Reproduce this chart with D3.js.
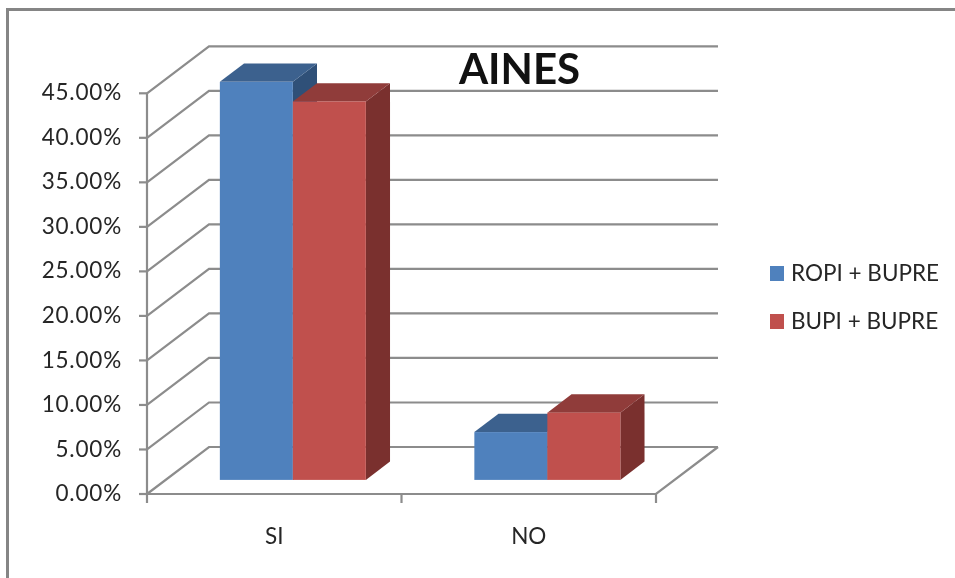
<!DOCTYPE html>
<html>
<head>
<meta charset="utf-8">
<script src="https://cdn.jsdelivr.net/npm/d3@7"></script>
<style>
html, body { margin: 0; padding: 0; background: #fff; }
svg { display: block; filter: blur(0.45px); }
text { font-family: Lato, "Open Sans", sans-serif; fill: #262626; }
</style>
</head>
<body>
<script>
var categories = ["SI", "NO"];
var seriesNames = ["ROPI + BUPRE", "BUPI + BUPRE"];
var ropiValues = [44.7, 5.37];
var bupiValues = [42.5, 7.55];
var yTicks = [0, 5, 10, 15, 20, 25, 30, 35, 40, 45];

var frontColors = ["#4f81bd", "#c0504d"],
	topColors = ["#3c618e", "#903c3a"],
	sideColors = ["#2f5078", "#7a302e"];

var width = 955, height = 578,
	plot = {left: 147, right: 656, top: 93.3, bottom: 494},
	depth = {x: 62, y: -47},
	barDepth = {start: 0.3, end: 0.69},
	gridColor = "#8c8c8c",
	labelSize = 22.5;

var svg = d3.select("body").append("svg")
	.attr("width", width)
	.attr("height", height);

var x = d3.scaleBand()
	.domain(categories)
	.range([plot.left, plot.right]);

var y = d3.scaleLinear()
	.domain([0, 45])
	.range([plot.bottom, plot.top]);

var barWidth = 73;

// project a plot point back into the box, d goes 0 (front) to 1 (back)
function px(v, d) { return v + depth.x * d; }
function py(v, d) { return v + depth.y * d; }
function pts(list) {
	return list.map(function(p){ return p[0] + "," + p[1]; }).join(" ");
}

// frame
svg.append("path")
	.attr("d", "M7.5,578V9.5H955")
	.attr("fill", "none")
	.attr("stroke", "#858585")
	.attr("stroke-width", 3);

// walls and gridlines
var grid = svg.append("g")
	.attr("fill", "none")
	.attr("stroke", gridColor)
	.attr("stroke-width", 2.2);

grid.selectAll(".side")
	.data(yTicks)
	.enter().append("polyline")
	.attr("class", "side")
	.attr("points", function(d){
		return pts([
			[plot.left, y(d)],
			[px(plot.left, 1), py(y(d), 1)],
			[px(plot.right, 1), py(y(d), 1)]
		]);
	});

// floor right side and front edge
grid.append("polyline")
	.attr("points", pts([
		[plot.left, plot.bottom],
		[plot.right, plot.bottom],
		[px(plot.right, 1), py(plot.bottom, 1)]
	]));

// axes
grid.append("line")
	.attr("x1", plot.left).attr("x2", plot.left)
	.attr("y1", plot.top).attr("y2", plot.bottom + 9);

grid.selectAll(".ytick")
	.data(yTicks)
	.enter().append("line")
	.attr("class", "ytick")
	.attr("x1", plot.left - 8).attr("x2", plot.left)
	.attr("y1", function(d){ return y(d); })
	.attr("y2", function(d){ return y(d); });

grid.selectAll(".xtick")
	.data([plot.left + x.bandwidth(), plot.right])
	.enter().append("line")
	.attr("class", "xtick")
	.attr("x1", function(d){ return d; }).attr("x2", function(d){ return d; })
	.attr("y1", plot.bottom).attr("y2", plot.bottom + 9);

svg.selectAll(".ylabel")
	.data(yTicks)
	.enter().append("text")
	.attr("class", "ylabel")
	.attr("x", 122)
	.attr("y", function(d){ return y(d) - 1; })
	.attr("dy", "0.36em")
	.attr("text-anchor", "end")
	.attr("font-size", labelSize)
	.attr("letter-spacing", 0.8)
	.text(function(d){ return d.toFixed(2) + "%"; });

svg.selectAll(".xlabel")
	.data(categories)
	.enter().append("text")
	.attr("class", "xlabel")
	.attr("x", function(d){ return x(d) + x.bandwidth() / 2; })
	.attr("y", 544)
	.attr("text-anchor", "middle")
	.attr("font-size", labelSize)
	.text(function(d){ return d; });

// bars, drawn back to front so the later series covers the earlier one
var series = [ropiValues, bupiValues];
categories.forEach(function(cat, c){
	var center = x(cat) + x.bandwidth() / 2 + depth.x * barDepth.start;
	series.forEach(function(values, s){
		var x0 = center + (s - 1) * barWidth,
			x1 = x0 + barWidth,
			yBase = py(y(0), barDepth.start),
			yTop = py(y(values[c]), barDepth.start),
			dx = depth.x * (barDepth.end - barDepth.start),
			dy = depth.y * (barDepth.end - barDepth.start);
		var bar = svg.append("g").attr("class", "bar");
		bar.append("polygon")
			.attr("fill", sideColors[s])
			.attr("points", pts([[x1, yTop], [x1 + dx, yTop + dy], [x1 + dx, yBase + dy], [x1, yBase]]));
		bar.append("polygon")
			.attr("fill", topColors[s])
			.attr("points", pts([[x0, yTop], [x0 + dx, yTop + dy], [x1 + dx, yTop + dy], [x1, yTop]]));
		bar.append("rect")
			.attr("x", x0)
			.attr("y", yTop)
			.attr("width", barWidth)
			.attr("height", yBase - yTop)
			.attr("fill", frontColors[s]);
	});
});

// title
svg.append("text")
	.attr("x", 519.5)
	.attr("y", 84)
	.attr("text-anchor", "middle")
	.attr("font-size", 42)
	.attr("font-weight", 700)
	.style("fill", "#111")
	.text("AINES");

// legend
var legend = svg.selectAll(".legend")
	.data(seriesNames)
	.enter().append("g")
	.attr("class", "legend")
	.attr("transform", function(d, i){ return "translate(770," + (273 + i * 48) + ")"; });

legend.append("rect")
	.attr("y", -7)
	.attr("width", 14)
	.attr("height", 15)
	.attr("fill", function(d, i){ return frontColors[i]; });

legend.append("text")
	.attr("x", 21)
	.attr("dy", "0.36em")
	.attr("font-size", labelSize)
	.text(function(d){ return d; });
</script>
</body>
</html>
